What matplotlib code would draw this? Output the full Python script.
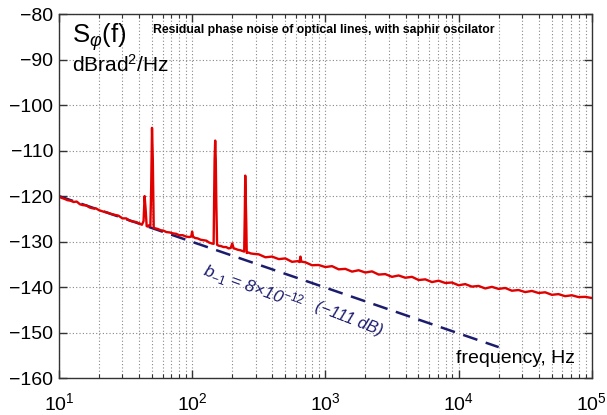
import matplotlib
matplotlib.use("Agg")
import matplotlib.pyplot as plt
from matplotlib.ticker import LogLocator, MultipleLocator, NullFormatter

plt.rcParams["font.family"] = ["Liberation Sans", "DejaVu Sans"]
plt.rcParams["mathtext.fontset"] = "custom"
plt.rcParams["mathtext.rm"] = "Liberation Sans"
plt.rcParams["mathtext.it"] = "Liberation Sans:italic"

freq_hz = [10, 10.5, 11, 11.6, 12.2, 12.9, 13.6, 14.4, 15.2, 16, 17, 18, 19, 20,
           21.5, 23, 24.5, 26, 28, 30, 32, 34, 36, 38, 40, 42, 43.2, 44, 44.8,
           45.6, 46.5, 47.5, 48.6, 49.3, 50, 50.7, 51.5, 53, 55, 58, 61, 64, 68,
           72, 76, 80, 85, 90, 95, 98.5, 100, 101.5, 105, 110, 116, 122, 128,
           134, 140, 145, 147.5, 149, 150.5, 152, 154, 158, 165, 172, 180, 188,
           195, 200, 205, 212, 220, 230, 240, 246, 248.5, 250.5, 252.5, 255, 257,
           265, 275, 290, 316, 355, 398, 447, 501, 562, 620, 640, 650, 660, 708,
           794, 891, 1000, 1122, 1259, 1413, 1585, 1778, 1995, 2239, 2512, 2818,
           3162, 3548, 3981, 4467, 5012, 5623, 6310, 7079, 7943, 8913, 10000,
           11220, 12589, 14125, 15849, 17783, 19953, 22387, 25119, 28184, 31623,
           35481, 39811, 44668, 50119, 56234, 63096, 70795, 79433, 89125, 100000]
noise_db = [-120.1, -120.4, -120.6, -120.9, -121.0, -121.3, -121.2, -121.8,
            -122.0, -122.0, -122.5, -122.7, -122.7, -123.1, -123.4, -123.6,
            -123.9, -124.1, -124.3, -124.9, -124.9, -125.4, -125.6, -125.7,
            -126.0, -126.3, -125.5, -120.0, -123.0, -126.6, -126.7, -126.4,
            -126.6, -118.0, -105.0, -112.0, -127.0, -127.1, -127.2, -127.5,
            -127.6, -127.9, -128.0, -128.2, -128.3, -128.6, -128.6, -128.9,
            -129.0, -128.9, -127.8, -128.9, -129.2, -129.3, -129.6, -129.7,
            -129.8, -130.2, -130.4, -130.5, -112.0, -107.8, -112.0, -122.0,
            -130.7, -130.9, -131.0, -131.2, -131.2, -131.5, -131.4, -130.4,
            -131.5, -131.6, -131.8, -131.9, -132.1, -132.2, -124.0, -115.5,
            -120.0, -126.0, -132.5, -132.4, -132.6, -132.7, -132.8, -133.45,
            -133.3, -133.85, -133.7, -134.45, -134.3, -134.5, -133.3, -134.4,
            -134.55, -135.2, -135.15, -135.6, -135.4, -136.1, -136.0, -136.6,
            -136.3, -136.8, -136.55, -137.25, -137.15, -137.75, -137.45, -137.95,
            -137.75, -138.45, -138.3, -138.9, -138.6, -139.1, -139.0, -139.6,
            -139.35, -139.9, -139.75, -140.3, -139.95, -140.4, -140.2, -140.8,
            -140.65, -141.1, -140.85, -141.3, -141.15, -141.7, -141.55, -142.0,
            -141.8, -142.2, -142.15, -142.4]

# flicker model line b_-1 / f
model_f = [10, 20000]
model_db = [-120.0, -153.2]

red = "#e00000"
navy = "#1c1c6e"

fig = plt.figure(figsize=(6.07, 4.15), dpi=100)
ax = fig.add_axes([0.097, 0.089, 0.878, 0.877])

ax.semilogx(model_f, model_db, color=navy, lw=1.8, dashes=(6, 3.5))
ax.semilogx(freq_hz, noise_db, color=red, lw=1.7)

ax.set_xlim(10, 1e5)
ax.set_ylim(-160, -80)
ax.yaxis.set_major_locator(MultipleLocator(10))
ax.xaxis.set_major_locator(LogLocator(base=10))
ax.xaxis.set_minor_locator(LogLocator(base=10, subs=range(2, 10)))
ax.xaxis.set_minor_formatter(NullFormatter())

ax.grid(True, which="major", color="#888888", ls=(0, (1, 2)), lw=0.8)
ax.grid(True, which="minor", axis="x", color="#888888", ls=(0, (1, 2)), lw=0.8)
ax.set_axisbelow(True)

ax.tick_params(which="both", direction="in", top=True, right=True, colors="#333333")
ax.tick_params(which="major", length=6, width=1, labelsize=14, labelcolor="black")
ax.tick_params(which="minor", length=3, width=0.8)
ax.tick_params(axis="x", which="major", pad=10)
ax.tick_params(axis="y", which="major", pad=4)
for s in ax.spines.values():
    s.set_color("#333333")
    s.set_linewidth(1.0)

ax.text(0.025, 0.920, r"S$_{\varphi}$(f)", transform=ax.transAxes,
        fontsize=18.5, va="baseline", ha="left")
ax.text(0.024, 0.841, r"dBrad$^2$/Hz", transform=ax.transAxes,
        fontsize=15, va="baseline", ha="left")
ax.text(0.176, 0.956, "Residual phase noise of optical lines, with saphir oscilator",
        transform=ax.transAxes, fontsize=8.8, fontweight="heavy", va="center", ha="left")
ax.text(0.745, 0.055, "frequency, Hz", transform=ax.transAxes,
        fontsize=14, va="center", ha="left")

ax.text(290, -140.0, r"$b_{-1}$ = 8$\times$10$^{-12}$", color=navy, fontsize=12.5,
        style="italic", rotation=-20, ha="center", va="center")
ax.text(1500, -147.0, "(\u2212111 dB)", color=navy, fontsize=12,
        style="italic", rotation=-21, ha="center", va="center")

fig.savefig("out.png", dpi=100)
